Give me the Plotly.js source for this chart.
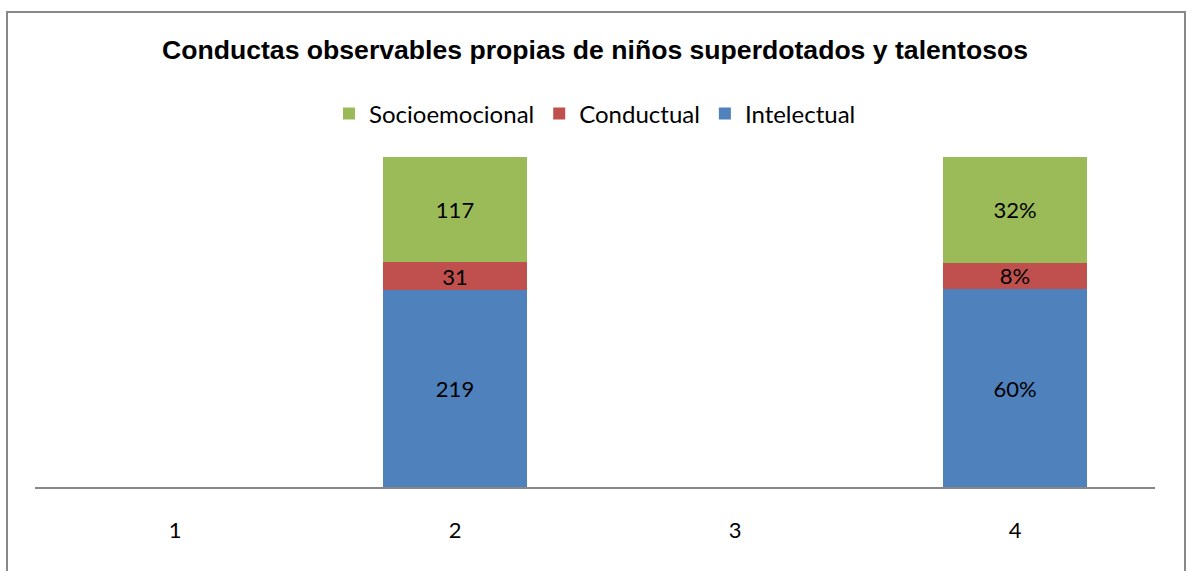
<!DOCTYPE html>
<html>
<head>
<meta charset="utf-8">
<script src="https://cdn.plot.ly/plotly-3.0.1.min.js"></script>
<style>html,body{margin:0;padding:0;background:#fff;}#chart{width:1190px;height:571px;}</style>
</head>
<body>
<div id="chart"></div>
<script>
const categories = ['1', '2', '3', '4'];
const intelectual = [null, 219, null, 60];
const conductual = [null, 31, null, 8];
const socioemocional = [null, 117, null, 32];
const intelectualLabels = ['', '219', '', '60%'];
const conductualLabels = ['', '31', '', '8%'];
const socioemocionalLabels = ['', '117', '', '32%'];

const font = 'Lato, "Open Sans", sans-serif';
function mk(name, y, text, color) {
  return {
    type: 'bar', name: name, x: categories, y: y, text: text,
    texttemplate: '%{text}',
    textposition: 'inside', insidetextanchor: 'middle', constraintext: 'none', textangle: 0,
    textfont: {family: font, size: 22, color: '#000'},
    marker: {color: color}, hoverinfo: 'skip'
  };
}
const data = [
  mk('Intelectual', intelectual, intelectualLabels, '#4F81BD'),
  mk('Conductual', conductual, conductualLabels, '#C0504D'),
  mk('Socioemocional', socioemocional, socioemocionalLabels, '#9BBB59')
];
const layout = {
  width: 1190, height: 571,
  margin: {l: 35, r: 35, t: 157, b: 84},
  paper_bgcolor: '#fff', plot_bgcolor: '#fff',
  barmode: 'stack', barnorm: 'percent', bargap: 0.486,
  showlegend: true,
  title: {text: '<b>Conductas observables propias de niños superdotados y talentosos</b>',
    font: {family: '"Liberation Sans", Arial, sans-serif', size: 26.6, color: '#000'},
    x: 0.5, xanchor: 'center', y: 1 - 50/571, yref: 'container', yanchor: 'middle'},
  legend: {orientation: 'h', x: 0.5, xanchor: 'center', y: (487-114)/330, yanchor: 'middle',
    traceorder: 'reversed', font: {family: font, size: 24, color: '#000'}, itemwidth: 30},
  xaxis: {type: 'category', showline: true, linecolor: '#888', linewidth: 1.5,
    ticks: '', ticklabelstandoff: 23, showgrid: false, zeroline: false,
    tickfont: {family: font, size: 22, color: '#000'}, fixedrange: true},
  yaxis: {range: [0, 100], visible: false, showgrid: false, zeroline: false, fixedrange: true},
  shapes: [{type: 'rect', xref: 'paper', yref: 'paper',
    x0: (7-35)/1120, x1: (1185-35)/1120, y0: (487-575)/330, y1: (487-12)/330,
    line: {color: '#888', width: 2}, fillcolor: 'rgba(0,0,0,0)'}]
};
Plotly.newPlot('chart', data, layout, {displayModeBar: false, staticPlot: true});
</script>
</body>
</html>
